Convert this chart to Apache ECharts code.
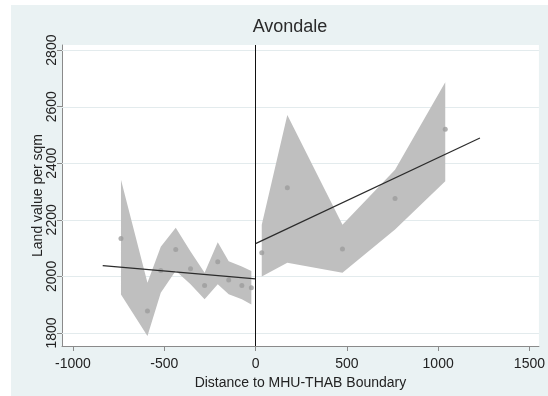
<!DOCTYPE html>
<html>
<head>
<meta charset="utf-8">
<style>
  html, body { margin: 0; padding: 0; background: #ffffff; }
  #chart { position: absolute; left: 11px; top: 5px; width: 537px; height: 391px; }
</style>
<script src="https://cdn.jsdelivr.net/npm/echarts@6/dist/echarts.min.js"></script>
</head>
<body>
<div id="chart"></div>
<script>
// Binned means and 95% bands, west side of the boundary (negative distance)
const leftX    = [-737, -592, -519, -437, -356, -279, -207, -147, -75, -23];
const leftMean = [2134, 1878, 2021, 2095, 2027, 1968, 2052, 1987, 1968, 1960];
const leftLo   = [1936, 1789, 1942, 2020, 1972, 1919, 1972, 1937, 1919, 1901];
const leftHi   = [2342, 1978, 2105, 2172, 2088, 2013, 2121, 2054, 2035, 2019];

// East side of the boundary (positive distance)
const rightX    = [34, 174, 476, 764, 1039];
const rightMean = [2084, 2313, 2097, 2275, 2520];
const rightLo   = [2000, 2048, 2013, 2166, 2336];
const rightHi   = [2183, 2571, 2183, 2377, 2686];

// Linear fits on each side
const leftFitX  = [-837, 0];
const leftFitY  = [2038, 1991];
const rightFitX = [0, 1229];
const rightFitY = [2116, 2489];

// Axis ticks
const xTicks = [-1000, -500, 0, 500, 1000, 1500];
const yTicks = [1800, 2000, 2200, 2400, 2600, 2800];

const X_MIN = -1060, X_MAX = 1552, Y_MIN = 1754, Y_MAX = 2818;

const BAND = '#bfbfbf';
const DOT = '#9c9c9c';
const FONT = '"Liberation Sans", Arial, sans-serif';

const pairs = (xs, ys) => xs.map((x, i) => [x, ys[i]]);
const triples = (xs, lo, hi) => xs.map((x, i) => [x, lo[i], hi[i]]);

// Shaded confidence band: one polygon along the upper edge and back along the lower edge
function bandSeries(xs, lo, hi) {
  return {
    type: 'custom', z: 2, silent: true,
    data: triples(xs, lo, hi),
    encode: { x: 0, y: [1, 2] },
    renderItem: function (params, api) {
      if (params.dataIndex !== 0) return null;
      const pts = [];
      for (let i = 0; i < xs.length; i++) pts.push(api.coord([xs[i], hi[i]]));
      for (let i = xs.length - 1; i >= 0; i--) pts.push(api.coord([xs[i], lo[i]]));
      return { type: 'polygon', shape: { points: pts }, style: { fill: BAND } };
    }
  };
}

const chart = echarts.init(document.getElementById('chart'), null, { renderer: 'canvas' });

chart.setOption({
  animation: false,
  backgroundColor: '#eaf2f3',
  title: {
    text: 'Avondale',
    left: 274, top: 8,
    textAlign: 'center',
    textStyle: { fontFamily: FONT, fontSize: 18, fontWeight: 'normal', color: '#2a2a2a' }
  },
  grid: {
    left: 51, right: 5, top: 40, bottom: 50,
    show: true, backgroundColor: '#ffffff', borderWidth: 0
  },
  xAxis: {
    type: 'value', min: X_MIN, max: X_MAX,
    name: 'Distance to MHU-THAB Boundary',
    nameLocation: 'middle', nameGap: 25,
    nameTextStyle: { fontFamily: FONT, fontSize: 14, color: '#222' },
    axisLine: { show: true, onZero: false, lineStyle: { color: '#8a8a8a', width: 1 } },
    axisTick: { show: true, length: 5, customValues: xTicks, lineStyle: { color: '#8a8a8a' } },
    axisLabel: {
      customValues: xTicks, margin: 11, fontFamily: FONT, fontSize: 14, color: '#222',
      formatter: v => String(v)
    },
    splitLine: { show: false }
  },
  yAxis: {
    type: 'value', min: Y_MIN, max: Y_MAX,
    name: 'Land value per sqm',
    nameLocation: 'middle', nameGap: 17,
    nameMoveOverlap: false,
    nameTextStyle: { fontFamily: FONT, fontSize: 14, color: '#222' },
    axisLine: { show: true, onZero: false, lineStyle: { color: '#8a8a8a', width: 1 } },
    axisTick: { show: true, length: 5, customValues: yTicks, lineStyle: { color: '#8a8a8a' } },
    axisLabel: {
      customValues: yTicks, rotate: 90, margin: 3, fontFamily: FONT, fontSize: 14, color: '#222',
      formatter: v => String(v)
    },
    splitLine: { show: false }
  },
  series: [
    // horizontal gridlines at the y ticks
    {
      type: 'custom', z: 1, silent: true,
      data: yTicks.map(v => [v]),
      encode: { y: 0 },
      renderItem: function (params, api) {
        const v = api.value(0);
        const a = api.coord([X_MIN, v]);
        const b = api.coord([X_MAX, v]);
        return {
          type: 'line',
          shape: { x1: a[0], y1: Math.round(a[1]) + 0.5, x2: b[0], y2: Math.round(b[1]) + 0.5 },
          style: { stroke: '#e3ebed', lineWidth: 1 }
        };
      }
    },
    bandSeries(leftX, leftLo, leftHi),
    bandSeries(rightX, rightLo, rightHi),
    {
      type: 'scatter', z: 3, data: pairs(leftX, leftMean),
      symbol: 'circle', symbolSize: 5, itemStyle: { color: DOT }
    },
    {
      type: 'scatter', z: 3, data: pairs(rightX, rightMean),
      symbol: 'circle', symbolSize: 5, itemStyle: { color: DOT }
    },
    {
      type: 'line', z: 4, data: pairs(leftFitX, leftFitY), symbol: 'none',
      lineStyle: { color: '#2b2b2b', width: 1.2 }
    },
    {
      type: 'line', z: 4, data: pairs(rightFitX, rightFitY), symbol: 'none',
      lineStyle: { color: '#2b2b2b', width: 1.2 },
      // boundary marker at zero distance
      markLine: {
        silent: true, symbol: 'none', label: { show: false },
        lineStyle: { color: '#111', width: 1, type: 'solid' },
        data: [{ xAxis: 0 }]
      }
    }
  ]
});
</script>
</body>
</html>
